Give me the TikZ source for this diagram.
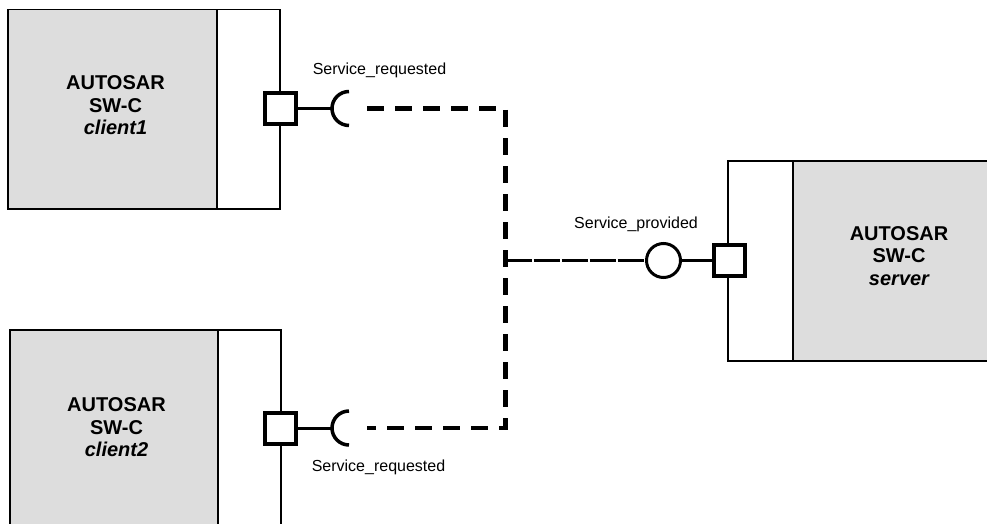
\documentclass[tikz,border=0pt]{standalone}
\usepackage{fontspec}
\setmainfont{Liberation Sans}
\definecolor{boxgray}{RGB}{221,221,221}
\begin{document}
\begin{tikzpicture}[x=1pt,y=-1pt,
  graypart/.style={draw, line width=1.5pt, fill=boxgray, inner sep=0pt, anchor=north west},
  whitepart/.style={draw, line width=1.5pt, fill=white, inner sep=0pt, anchor=north west},
  comptext/.style={align=center, font=\fontsize{20pt}{22.5pt}\selectfont\bfseries, inner sep=0pt},
  port/.style={draw, line width=4pt, fill=white, minimum size=31pt, inner sep=0pt, rectangle},
  provided/.style={draw, line width=3pt, fill=white, circle, minimum size=34pt, inner sep=0pt},
  stub/.style={line width=3pt},
  socket/.style={line width=3.5pt},
  conthick/.style={line width=4.5pt, dash pattern=on 17pt off 11pt},
  conthin/.style={line width=3pt, dash pattern=on 26pt off 2pt},
  lbl/.style={font=\fontsize{16pt}{18pt}\selectfont, inner sep=0pt, anchor=base}
]
\useasboundingbox (0,0) rectangle (987,524);

% client1
\node[graypart, minimum width=209pt, minimum height=199pt] (c1g) at (7,9) {};
\node[whitepart, minimum width=63pt, minimum height=199pt] (c1w) at (216,9) {};
\node[comptext] (c1t) at (115.5,105.5) {AUTOSAR\\SW-C\\\itshape client1};

% client2
\node[graypart, minimum width=208pt, minimum height=220pt] (c2g) at (9,329) {};
\node[whitepart, minimum width=63pt, minimum height=220pt] (c2w) at (217,329) {};
\node[comptext] (c2t) at (116.5,427.5) {AUTOSAR\\SW-C\\\itshape client2};

% server
\node[whitepart, minimum width=65pt, minimum height=200pt] (sw) at (727,160) {};
\node[graypart, minimum width=220pt, minimum height=200pt] (sg) at (792,160) {};
\node[comptext] (st) at (899,256) {AUTOSAR\\SW-C\\\itshape server};

% ports
\node[port] (p1) at (280.5,108.5) {};
\node[port] (p2) at (280.5,428) {};
\node[port] (p3) at (729,260.5) {};

% required sockets
\coordinate (s1) at (349,108.5);
\coordinate (s2) at (349,428);
\draw[stub] (p1.east) -- ([xshift=-17pt]s1);
\draw[stub] (p2.east) -- ([xshift=-17pt]s2);
\draw[socket] ([yshift=-17pt]s1) arc[start angle=90, end angle=270, radius=17];
\draw[socket] ([yshift=-17pt]s2) arc[start angle=90, end angle=270, radius=17];

% provided interface
\node[provided] (pr) at (663.5,260.5) {};
\draw[stub] (pr.east) -- (p3.west);

% assembly connectors
\coordinate (j) at (505.5,260.5);
\draw[conthick] ([xshift=18pt]s1) -- (s1 -| j) -- (s2 -| j) -- ([xshift=18pt]s2);
\draw[conthin] (j) -- (pr.west);

% labels
\node[lbl] (l1) at (379.5,75) {Service\_requested};
\node[lbl] (l2) at (378.5,471) {Service\_requested};
\node[lbl] (l3) at (636,228) {Service\_provided};
\end{tikzpicture}
\end{document}
